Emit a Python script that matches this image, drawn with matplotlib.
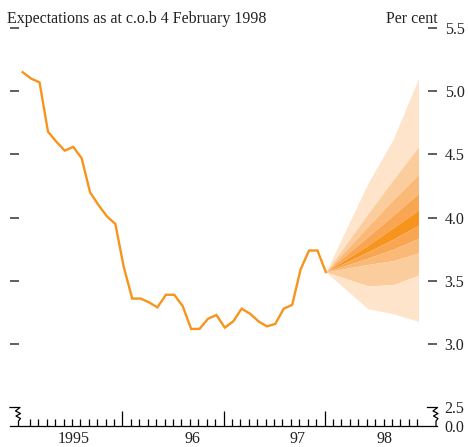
import matplotlib
matplotlib.use("Agg")
import matplotlib.pyplot as plt
import numpy as np

# ---- data ----
# monthly observations (month index 0 = first point, mid-1994)
hist_values = [5.15, 5.10, 5.07, 4.68, 4.60, 4.53, 4.56, 4.47, 4.20, 4.10,
               4.01, 3.95, 3.61, 3.36, 3.36, 3.33, 3.29, 3.39, 3.39, 3.30,
               3.12, 3.12, 3.20, 3.23, 3.13, 3.18, 3.28, 3.24, 3.18, 3.14,
               3.16, 3.28, 3.31, 3.59, 3.74, 3.74, 3.57]
hist_months = list(range(len(hist_values)))

# fan chart: month index of the projection nodes
fan_months = [36, 41, 44, 47]
# band boundaries (top to bottom) at each node
fan_b0 = [3.57, 4.27, 4.62, 5.10]
fan_b1 = [3.57, 4.03, 4.30, 4.56]
fan_b2 = [3.57, 3.93, 4.14, 4.34]
fan_b3 = [3.57, 3.85, 4.02, 4.19]
fan_b4 = [3.57, 3.78, 3.92, 4.06]
fan_b5 = [3.57, 3.73, 3.83, 3.94]
fan_b6 = [3.57, 3.68, 3.75, 3.835]
fan_b7 = [3.57, 3.63, 3.66, 3.72]
fan_b8 = [3.57, 3.46, 3.47, 3.545]
fan_b9 = [3.57, 3.28, 3.24, 3.18]

year_labels = ["1995", "96", "97", "98"]
year_label_pos = [6.1, 20.1, 32.6, 43.0]

y_ticks = [3.0, 3.5, 4.0, 4.5, 5.0, 5.5]

# ---- style ----
line_color = "#F7941D"
band_colors = ["#FDE4CA", "#FCCD9C", "#FBB978", "#F9A652", "#F7941D"]
tick_color = "#333333"
serif = ["Liberation Serif", "DejaVu Serif"]
fs = 11.5

fig = plt.figure(figsize=(4.68, 4.47), dpi=100)
ax = fig.add_axes([10/468, 1-426/447, 427/468, 398/447])

ymin = 2.352
ax.set_xlim(-1.51, 49.2)
ax.set_ylim(ymin, 5.5)

bounds = [fan_b0, fan_b1, fan_b2, fan_b3, fan_b4, fan_b5, fan_b6, fan_b7, fan_b8, fan_b9]
shade_idx = [0, 1, 2, 3, 4, 3, 2, 1, 0]
for k in range(9):
    ax.fill_between(fan_months, bounds[k], bounds[k+1],
                    color=band_colors[shade_idx[k]], lw=0, zorder=1)

ax.plot(hist_months, hist_values, color=line_color, lw=1.7, zorder=3,
        solid_joinstyle="miter")

# spines
for s in ["left", "right", "top"]:
    ax.spines[s].set_visible(False)
ax.spines["bottom"].set_color("black")
ax.spines["bottom"].set_linewidth(0.9)

# y ticks
ax.set_yticks([ymin, 2.5] + y_ticks)
ax.set_yticklabels(["0.0", "2.5"] + [f"{v:.1f}" for v in y_ticks])
ax.tick_params(axis="y", direction="in", length=6.2, width=1.1, color=tick_color,
               left=True, right=True, labelleft=False, labelright=True,
               pad=5.5, labelsize=fs, labelcolor="#222222")
for t in ax.yaxis.get_major_ticks()[:2]:
    t.tick1line.set_visible(False)
    t.tick2line.set_visible(False)
for lab in ax.get_yticklabels():
    lab.set_fontfamily(serif)

# x ticks (monthly)
major_x = [12 - 0.15, 24 - 0.15, 36 - 0.15]
minor_x = [m - 0.15 for m in range(1, 48) if m not in (12, 24, 36)]
ax.set_xticks(major_x)
ax.set_xticks(minor_x, minor=True)
ax.set_xticklabels([])
ax.tick_params(axis="x", which="major", direction="in", length=11, width=0.9,
               color="black", labelbottom=False)
ax.tick_params(axis="x", which="minor", direction="in", length=5.2, width=0.9,
               color="black")

for lab, xp in zip(year_labels, year_label_pos):
    ax.annotate(lab, xy=(xp, 0), xycoords=("data", "axes fraction"),
                xytext=(0, -3.5), textcoords="offset points",
                ha="center", va="top", fontsize=fs, family=serif, color="#222222")

# axis break symbols
def draw_break(x_px):
    pts = [(-9.5, 407.5), (0.5, 407.5), (-4, 411), (1, 413.5), (-3.5, 416),
           (1, 418.5), (-1, 421), (-1, 426)]
    xs = [x_px + p[0] for p in pts]
    ys = [p[1] for p in pts]
    xf = [x / 468 for x in xs]
    yf = [1 - y / 447 for y in ys]
    fig.add_artist(plt.Line2D(xf, yf, transform=fig.transFigure, color="black",
                              lw=0.9))

draw_break(19.5)
draw_break(437)

fig.text(7/468, 1-23/447, "Expectations as at c.o.b 4 February 1998",
         ha="left", va="baseline", fontsize=fs, family=serif, color="#222222")
fig.text(438/468, 1-23/447, "Per cent", ha="right", va="baseline",
         fontsize=fs, family=serif, color="#222222")

fig.savefig("out.png", dpi=100)
